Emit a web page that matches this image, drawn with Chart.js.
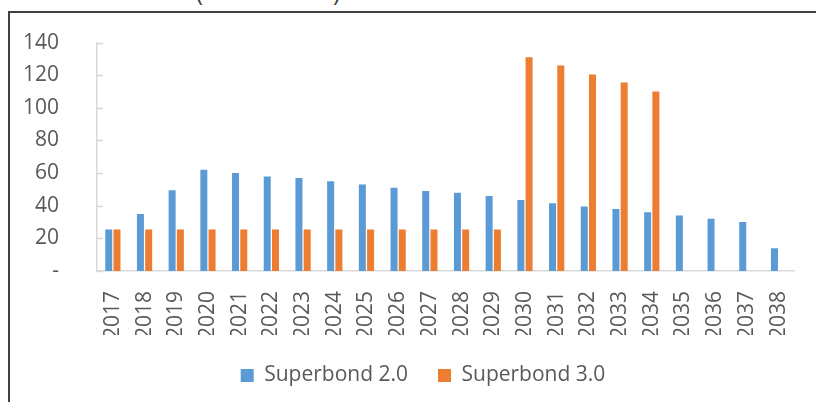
<!DOCTYPE html>
<html lang="en">
<head>
  <meta charset="UTF-8">
  <title>Superbond</title>
  <script src="https://cdn.jsdelivr.net/npm/chart.js"></script>
  <style>
    body {
      margin: 0;
      width: 816px;
      height: 402px;
      overflow: hidden;
      background: #fff;
      font-family: "Open Sans", Arial, sans-serif;
      position: relative;
    }
    .frame {
      position: absolute;
      left: 8px;
      top: 11px;
      width: 830px;
      height: 420px;
      border: 2px solid #404040;
    }
    .paren {
      position: absolute;
      top: -25px;
      font-size: 24px;
      color: #404040;
    }
    canvas {
      position: absolute;
      left: 0;
      top: 0;
    }
  </style>
</head>
<body>
  <div class="frame"></div>
  <span class="paren" style="left:196px">(</span>
  <span class="paren" style="left:333px">)</span>
  <canvas id="bondChart" width="816" height="402"></canvas>

  <script>
    const years = ['2017', '2018', '2019', '2020', '2021', '2022', '2023', '2024', '2025', '2026', '2027',
                   '2028', '2029', '2030', '2031', '2032', '2033', '2034', '2035', '2036', '2037', '2038'];
    const superbond2 = [25.5, 35, 49.5, 62, 60, 58, 57, 55, 53, 51, 49, 48, 46, 43.5, 41.5, 39.5, 38, 36, 34, 32, 30, 14];
    const superbond3 = [25.5, 25.5, 25.5, 25.5, 25.5, 25.5, 25.5, 25.5, 25.5, 25.5, 25.5, 25.5, 25.5,
                        131, 126, 120.5, 115.5, 110, null, null, null, null];
    const yTicks = [0, 20, 40, 60, 80, 100, 120, 140];

    const textColor = '#595959';
    const axisColor = '#d9d9d9';
    const labelFont = { family: 'Open Sans', size: 21 };

    // small tick marks on the inside of the value axis
    const innerTicks = {
      id: 'innerTicks',
      afterDraw(chart) {
        const y = chart.scales.y;
        const c = chart.ctx;
        c.save();
        c.strokeStyle = axisColor;
        c.lineWidth = 1.5;
        yTicks.forEach(v => {
          const py = Math.round(y.getPixelForValue(v)) + 0.5;
          c.beginPath();
          c.moveTo(y.right, py);
          c.lineTo(y.right + 6, py);
          c.stroke();
        });
        c.restore();
      }
    };

    // the legend sits a little right of the canvas centre
    const legendShift = {
      id: 'legendShift',
      afterLayout(chart) {
        chart.legend.left += 20;
        chart.legend.right += 20;
      }
    };

    const ctx = document.getElementById('bondChart').getContext('2d');
    new Chart(ctx, {
      type: 'bar',
      data: {
        labels: years,
        datasets: [{
          label: 'Superbond 2.0',
          data: superbond2,
          backgroundColor: '#5b9bd5',
          borderWidth: 0,
          categoryPercentage: 0.52,
          barPercentage: 0.85
        }, {
          label: 'Superbond 3.0',
          data: superbond3,
          backgroundColor: '#ed7d31',
          borderWidth: 0,
          categoryPercentage: 0.52,
          barPercentage: 0.85
        }]
      },
      options: {
        responsive: false,
        animation: false,
        layout: { padding: { top: 41, right: 10, bottom: 6, left: 0 } },
        plugins: {
          tooltip: { enabled: false },
          legend: {
            position: 'bottom',
            labels: {
              color: textColor,
              font: labelFont,
              boxWidth: 13,
              boxHeight: 13,
              padding: 30
            }
          }
        },
        scales: {
          x: {
            grid: { display: false },
            border: { display: true, color: axisColor, width: 1.5 },
            ticks: {
              color: textColor,
              font: labelFont,
              minRotation: 90,
              maxRotation: 90,
              padding: 12
            },
            afterFit(scale) { scale.height = 64; }
          },
          y: {
            min: 0,
            max: 140,
            grid: { display: false },
            border: { display: true, color: axisColor, width: 1.5 },
            afterBuildTicks(scale) { scale.ticks = yTicks.map(v => ({ value: v })); },
            ticks: {
              color: textColor,
              font: labelFont,
              padding: 30,
              callback: v => v === 0 ? '-' : v
            },
            afterFit(scale) { scale.width = 97; }
          }
        }
      },
      plugins: [innerTicks, legendShift]
    });
  </script>
</body>
</html>
